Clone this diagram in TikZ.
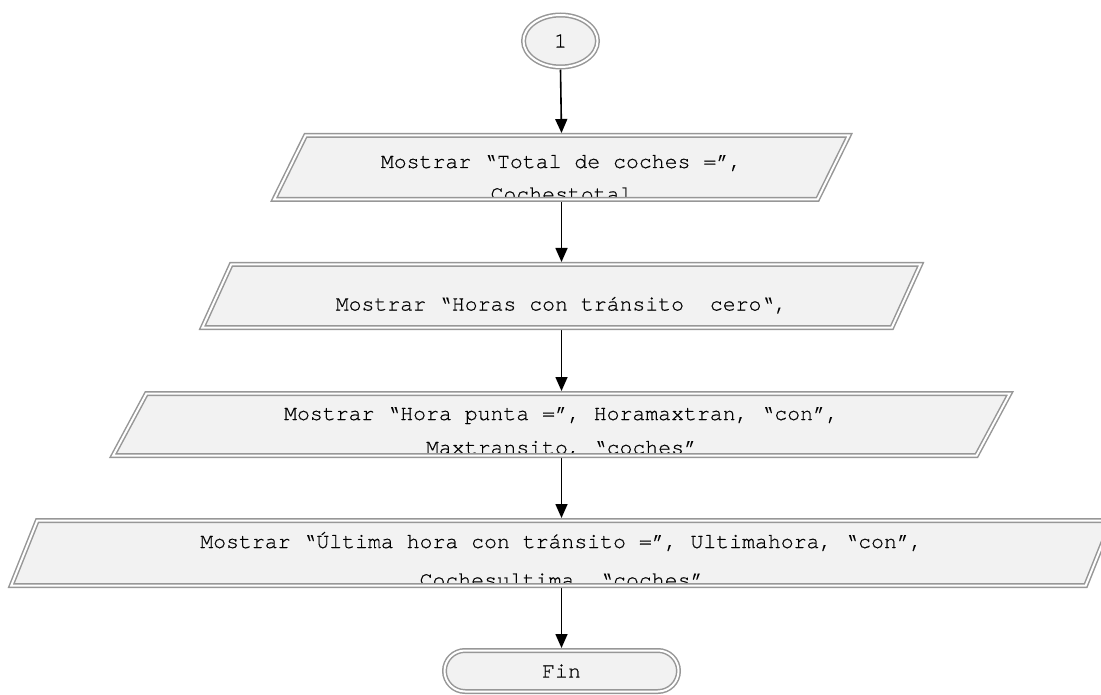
\documentclass[tikz,border=0pt]{standalone}
\usepackage{fontspec}
\setmonofont[FakeBold=0.5]{TeX Gyre Cursor}
\usetikzlibrary{arrows.meta,backgrounds,shapes.geometric}

\definecolor{boxfill}{HTML}{F2F2F2}
\definecolor{boxline}{HTML}{979797}

\tikzset{
  mono/.style={font=\ttfamily\fontsize{21.5}{30}\selectfont},
  dborder/.style={draw=boxline, double=white, line width=1.5pt, double distance=2pt},
  linetext/.style={mono, inner sep=0pt, anchor=base},
  flow/.style={draw=black, line width=1.6pt, -{Triangle[length=14pt,width=12pt]}},
  iobox/.style={rectangle, inner sep=0pt, outer sep=0pt},
  terminal/.style={dborder, fill=boxfill, mono, inner sep=0pt, outer sep=2.5pt},
}

% Input/output parallelogram with a double border; the text is clipped to its outline.
% #1 name, #2 centre y, #3 side length, #4 height, #5 slant, #6 text nodes
\newcommand\ioblock[6]{%
  \node[iobox, minimum width=#3pt, minimum height={#4pt+5pt}] (#1) at (561.5,#2) {};
  \coordinate (#1-tl) at ({561.5-#3/2+#5/2},{#2-#4/2});
  \coordinate (#1-tr) at ({561.5+#3/2+#5/2},{#2-#4/2});
  \coordinate (#1-br) at ({561.5+#3/2-#5/2},{#2+#4/2});
  \coordinate (#1-bl) at ({561.5-#3/2-#5/2},{#2+#4/2});
  \fill[boxfill] (#1-tl) -- (#1-tr) -- (#1-br) -- (#1-bl) -- cycle;
  \begin{scope}
    \clip (#1-tl) -- (#1-tr) -- (#1-br) -- (#1-bl) -- cycle;
    #6
  \end{scope}
  \draw[dborder] (#1-tl) -- (#1-tr) -- (#1-br) -- (#1-bl) -- cycle;
}

\begin{document}
\begin{tikzpicture}[x=1pt,y=-1pt]
\useasboundingbox (0,0) rectangle (1101,695);

% connector "1"
\node[terminal, ellipse, minimum width=74pt, minimum height=52pt] (c1) at (560.5,41) {1};

\ioblock{p1}{167.5}{543.4}{64}{31.5}{%
  \node[linetext] (p1a) at (561.5,168) {Mostrar “Total de coches =”,};
  \node[linetext] (p1b) at (561.5,200.5) {Cochestotal};
}

\ioblock{p2}{296}{689.4}{63}{28.7}{%
  \node[linetext] (p2a) at (561.5,310.5) {Mostrar “Horas con tránsito~~cero“,};
}

\ioblock{p3}{424.5}{863.4}{62}{33.3}{%
  \node[linetext] (p3a) at (561.5,420) {Mostrar “Hora punta =”, Horamaxtran, “con”,};
  \node[linetext] (p3b) at (561.5,454) {Maxtransito, “coches”};
}

\ioblock{p4}{553}{1074.4}{65}{26}{%
  \node[linetext] (p4a) at (561.5,548) {Mostrar “Última hora con tránsito =”, Ultimahora, “con”,};
  \node[linetext] (p4b) at (561.5,586.5) {Cochesultima, “coches”};
}

% end terminal
\node[terminal, rectangle, rounded corners=20.5pt, minimum width=234pt, minimum height=41pt] (fin) at (561.5,671) {Fin};

\begin{pgfonlayer}{background}
  \draw[flow] (c1.south) -- (p1.north);
  \draw[flow] (p1.south) -- (p2.north);
  \draw[flow] (p2.south) -- (p3.north);
  \draw[flow] (p3.south) -- (p4.north);
  \draw[flow] (p4.south) -- (fin.north);
\end{pgfonlayer}
\end{tikzpicture}
\end{document}
